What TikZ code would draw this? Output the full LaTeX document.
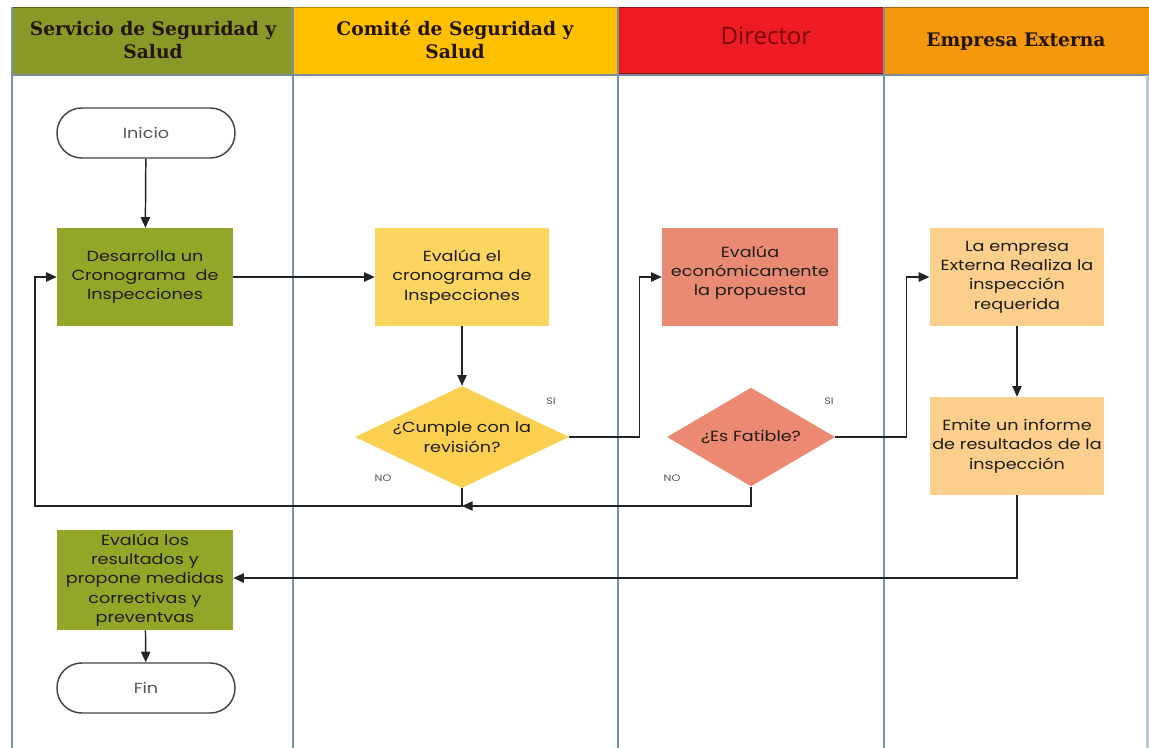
\documentclass[tikz,border=0pt]{standalone}
\usepackage{fontspec}
\setmainfont{Poppins}[FakeStretch=1.2]
\newfontfamily\hdrfont{DejaVu Serif}
\newfontfamily\dirfont{Open Sans}
\usetikzlibrary{shapes.geometric,arrows.meta,calc}
\definecolor{hdgreen}{RGB}{138,152,40}
\definecolor{hdgreenD}{RGB}{90,100,20}
\definecolor{hdyellow}{RGB}{255,192,0}
\definecolor{hdyellowD}{RGB}{190,130,0}
\definecolor{hdred}{RGB}{237,28,36}
\definecolor{hdredD}{RGB}{150,20,25}
\definecolor{hdorange}{RGB}{246,152,12}
\definecolor{hdorangeD}{RGB}{170,100,10}
\definecolor{boxgreen}{RGB}{148,166,40}
\definecolor{boxyellow}{RGB}{252,213,96}
\definecolor{diayellow}{RGB}{251,208,80}
\definecolor{boxsalmon}{RGB}{233,139,115}
\definecolor{diasalmon}{RGB}{236,137,114}
\definecolor{boxpeach}{RGB}{252,207,140}
\definecolor{laneline}{RGB}{118,146,166}
\definecolor{conn}{RGB}{35,35,35}
\definecolor{bodytext}{RGB}{30,28,20}
\definecolor{dirtext}{RGB}{120,10,10}
\definecolor{hdtext}{RGB}{35,20,8}
\definecolor{labgray}{RGB}{85,85,85}
\begin{document}
\begin{tikzpicture}[x=0.75pt,y=-0.75pt,
  lane/.style={draw=laneline,line width=1.6pt},
  hdtxt/.style={text=hdtext,align=center,font=\hdrfont\bfseries\fontsize{14}{17}\selectfont},
  procbox/.style={rectangle,minimum width=132pt,minimum height=73.5pt,inner sep=0pt,text width=132pt,align=center,text=bodytext,font=\fontsize{11}{14.5}\selectfont},
  termbox/.style={rectangle,rounded corners=18.5pt,draw=conn!85,line width=1.1pt,fill=white,minimum width=133.5pt,minimum height=37.5pt,inner sep=0pt,text=labgray,font=\fontsize{11}{14.5}\selectfont},
  decision/.style={diamond,aspect=2,inner sep=0pt},
  dtext/.style={align=center,text=bodytext,font=\fontsize{11}{14.5}\selectfont,inner sep=0pt},
  arr/.style={draw=conn,line width=1.1pt,-{Triangle[length=8pt,width=7pt]}},
  lbl/.style={text=labgray,font=\fontsize{7}{8}\selectfont,inner sep=0pt}
]
\useasboundingbox (0,0) rectangle (1149,748);
\fill[white] (0,0) rectangle (1149,748);
% header
\fill[hdgreen] (12,7) rectangle (293,75);
\fill[hdyellow] (293,7) rectangle (618,75);
\fill[hdred] (618,7) rectangle (884,75);
\fill[hdorange] (884,7) rectangle (1149,75);
\draw[hdgreenD,line width=1.2pt] (12,7.5) -- (293,7.5);
\draw[hdyellowD,line width=1.2pt] (293,7.5) -- (618,7.5);
\draw[hdredD,line width=1.2pt] (618,7.5) -- (884,7.5);
\draw[hdorangeD,line width=1.2pt] (884,7.5) -- (1149,7.5);
\draw[hdredD,line width=1pt] (618,73.5) -- (884,73.5);
\draw[laneline!70!gray,line width=1.2pt] (12,75) -- (1149,75);
\node[hdtxt] (h1) at (153,40) {Servicio de Seguridad y\\Salud};
\node[hdtxt] (h2) at (455,40) {Comité de Seguridad y\\Salud};
\node[text=dirtext,font=\dirfont\fontsize{18}{20}\selectfont,inner sep=0pt] (h3) at (766,36) {Director};
\node[hdtxt] (h4) at (1016,42) {Empresa Externa};
% lanes
\draw[lane] (12,7) -- (12,748);
\draw[lane] (293,7) -- (293,748);
\draw[lane] (618,7) -- (618,748);
\draw[lane] (884,7) -- (884,748);
\draw[lane,draw=laneline!50] (1147.5,75) -- (1147.5,748);
% nodes
\node[termbox] (inicio) at (146,133) {Inicio};
\node[procbox,fill=boxgreen] (desarrolla) at (145,277) {Desarrolla un\\Cronograma\ \ de\\Inspecciones};
\node[procbox,fill=boxyellow,minimum width=130.5pt,text width=130.5pt] (evalcron) at (462,277) {Evalúa el\\cronograma de\\Inspecciones};
\node[decision,fill=diayellow,minimum width=160.5pt,minimum height=76.5pt] (cumple) at (462,437) {};
\node[dtext] (cumpletxt) at (cumple.center) {¿Cumple con la\\revisión?};
\node[procbox,fill=boxsalmon] (director) at (750,277) {Evalúa\\económicamente\\la propuesta\\[-5pt]\mbox{}};
\node[decision,fill=diasalmon,minimum width=126pt,minimum height=74pt] (fatible) at (751,437) {};
\node[dtext] (fatibletxt) at (fatible.center) {¿Es Fatible?};
\node[procbox,fill=boxpeach,minimum width=131pt,text width=131pt] (empresa) at (1017,277) {La empresa\\Externa Realiza la\\inspección\\requerida};
\node[procbox,fill=boxpeach,minimum width=131pt,text width=131pt] (emite) at (1017,446) {Emite un informe\\de resultados de la\\inspección};
\node[procbox,fill=boxgreen,minimum height=75pt] (evalres) at (145,580) {Evalúa los\\resultados y\\propone medidas\\correctivas y\\preventvas};
\node[termbox] (fin) at (146,688) {Fin};
% labels
\node[lbl] (si1) at (551,401) {SI};
\node[lbl] (si2) at (829,401) {SI};
\node[lbl] (no1) at (383,478) {NO};
\node[lbl] (no2) at (672,478) {NO};
% connectors
\coordinate (merge) at (462,506);
\coordinate (loopL) at (35,277);
\draw[arr] (inicio) -- (desarrolla);
\draw[arr] (desarrolla) -- (evalcron);
\draw[arr] (evalcron) -- (cumple.north);
\draw[arr] (cumple.east) -- ++(70,0) |- (director.west);
\draw[arr] (cumple.south) -- (merge) -| (loopL) -- (desarrolla.west);
\draw[arr] (fatible.south) |- (merge);
\draw[arr] (fatible.east) -- ++(71,0) |- (empresa.west);
\draw[arr] (empresa) -- (emite);
\draw[arr] (emite.south) |- ([yshift=1.5pt]evalres.east);
\draw[arr] (evalres) -- (fin);
\end{tikzpicture}
\end{document}
